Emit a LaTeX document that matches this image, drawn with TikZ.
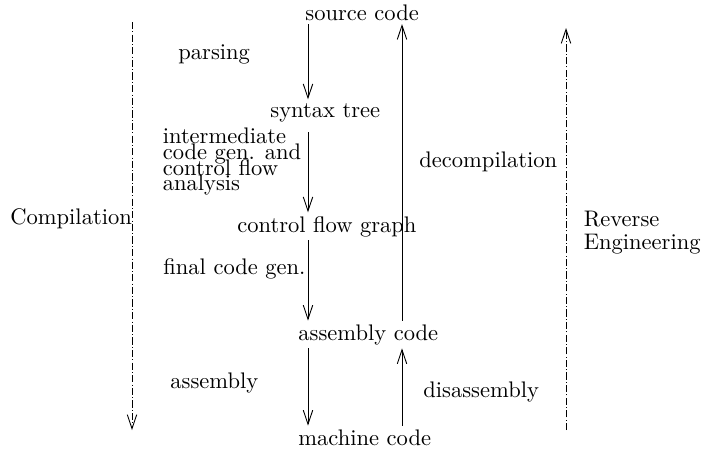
\documentclass[tikz,border=0pt]{standalone}
\usepackage{amsmath}
\usepackage{tikz}
\usetikzlibrary{arrows.meta}

\newcommand{\tightlines}{\fontsize{10}{7}\selectfont\lineskiplimit=-100pt\relax}

\begin{document}
\begin{tikzpicture}[x=0.444pt,y=-0.444pt,
  lbl/.style={inner sep=1.5pt,anchor=base west},
  flow/.style={-{Straight Barb[length=6.2pt,width=4.2pt]}},
  phase/.style={flow,dash pattern=on 3.2pt off 1pt on 0.4pt off 1pt}]

\useasboundingbox (0,0) rectangle (702,451);

%% stages
\node[lbl] (src) at (301.6,20) {source code};
\node[lbl] (syn) at (266.6,117) {syntax tree};
\node[lbl] (cfg) at (233.6,232) {control flow graph};
\node[lbl] (asm) at (294.6,340) {assembly code};
\node[lbl] (mach) at (294.6,445) {machine code};
\coordinate (down) at (308,0);
\coordinate (up) at (402,0);

%% step labels
\node[lbl] (parse) at (174.6,59) {parsing};
\node[inner sep=1.5pt,anchor=north west,align=left,font=\tightlines]
  (inter) at (159,124) {intermediate\\code gen. and\\control flow\\analysis};
\node[lbl] (final) at (159.6,274) {final code gen.};
\node[lbl] (assem) at (166.6,388) {assembly};
\node[lbl] (decomp) at (415.6,167) {decompilation};
\node[lbl] (disasm) at (419.6,397) {disassembly};

%% sides
\node[lbl] (comp) at (6.6,224) {Compilation};
\node[inner sep=1.5pt,anchor=north west,align=left,
  font=\fontsize{10}{10.2}\selectfont] (rev) at (580,207.4)
  {Reverse\\Engineering};
\coordinate (ctop) at (132,22);
\coordinate (cbot) at (132,430);
\coordinate (rbot) at (566,430);
\coordinate (rtop) at (566,28);

%%% edges
\draw[flow] (src.south -| down) -- (syn.north -| down);
\draw[flow,shorten <=3pt] (syn.south -| down) -- (cfg.north -| down);
\draw[flow] (cfg.south -| down) -- (asm.north -| down);
\draw[flow] (asm.south -| down) -- (mach.north -| down);
\draw[flow] (asm.north -| up) -- (src.south -| up);
\draw[flow] (mach.north -| up) -- (asm.south -| up);

\draw[phase] (ctop) -- (cbot);
\draw[phase] (rbot) -- (rtop);

\end{tikzpicture}
\end{document}
